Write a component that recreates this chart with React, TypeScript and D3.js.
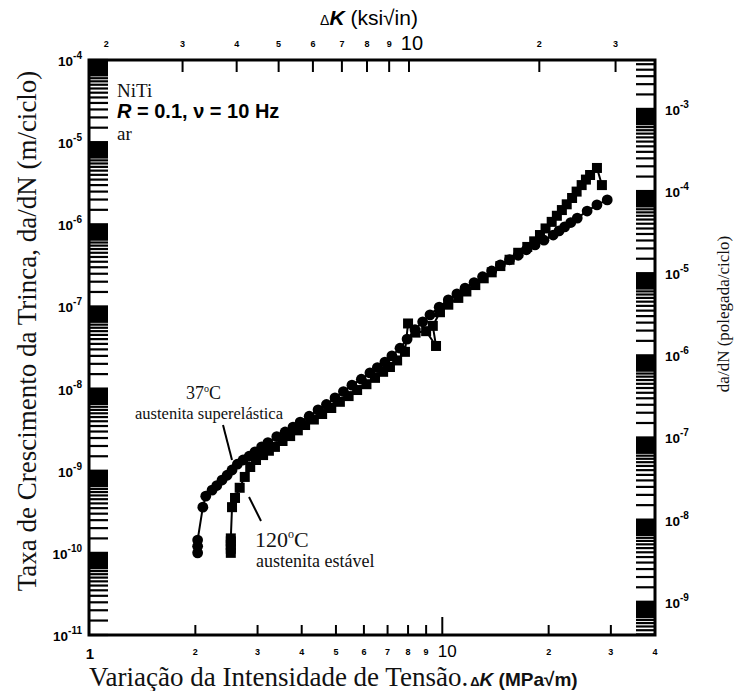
import React from "react";
import * as d3 from "d3";

// ---------- data ----------
// 37 °C austenita superelástica (circles): ΔK [MPa√m], da/dN [m/ciclo]
const k37 = [2.03, 2.03, 2.03, 2.1, 2.14, 2.23, 2.3, 2.38, 2.46, 2.54, 2.63, 2.73, 2.84, 2.95, 3.08, 3.21, 3.4, 3.59, 3.78, 3.96, 4.2, 4.45, 4.7, 4.97, 5.25, 5.55, 5.9, 6.24, 6.55, 6.88, 7.2, 7.59, 7.95, 8.37, 8.8, 9.23, 9.8, 10.4, 11.0, 11.6, 12.3, 13.0, 13.8, 14.6, 15.5, 16.4, 17.3, 18.3, 19.4, 20.6, 21.4, 22.2, 23.1, 24.1, 25.7, 27.4, 29.3];
const v37 = [1.0e-10, 1.2e-10, 1.43e-10, 3.6e-10, 4.9e-10, 5.8e-10, 6.6e-10, 7.7e-10, 8.8e-10, 1.02e-9, 1.2e-9, 1.35e-9, 1.5e-9, 1.7e-9, 1.95e-9, 2.2e-9, 2.6e-9, 2.96e-9, 3.4e-9, 3.9e-9, 4.6e-9, 5.5e-9, 6.4e-9, 7.7e-9, 9.2e-9, 1.1e-8, 1.3e-8, 1.55e-8, 1.8e-8, 2.1e-8, 2.5e-8, 3.1e-8, 4.0e-8, 5.2e-8, 6.5e-8, 7.9e-8, 9.8e-8, 1.2e-7, 1.42e-7, 1.67e-7, 1.95e-7, 2.3e-7, 2.7e-7, 3.2e-7, 3.7e-7, 4.2e-7, 4.9e-7, 5.6e-7, 6.4e-7, 7.4e-7, 8.3e-7, 9.3e-7, 1.05e-6, 1.19e-6, 1.45e-6, 1.72e-6, 1.98e-6];

// 120 °C austenita estável (squares)
const k120 = [2.52, 2.52, 2.52, 2.52, 2.52, 2.54, 2.59, 2.67, 2.76, 2.86, 2.97, 3.11, 3.23, 3.36, 3.53, 3.71, 3.9, 4.09, 4.33, 4.57, 4.85, 5.13, 5.43, 5.74, 6.1, 6.45, 6.8, 7.11, 7.45, 7.84, 8.0, 8.4, 9.0, 9.6, 9.4, 9.85, 10.4, 11.1, 11.7, 12.4, 13.1, 13.8, 14.6, 15.5, 16.4, 17.4, 18.2, 18.9, 19.6, 20.4, 21.1, 21.8, 22.5, 23.3, 24.0, 24.8, 25.5, 26.2, 27.4, 28.3];
const v120 = [1.0e-10, 1.12e-10, 1.25e-10, 1.38e-10, 1.5e-10, 3.6e-10, 4.66e-10, 6.2e-10, 8.4e-10, 1.11e-9, 1.35e-9, 1.55e-9, 1.75e-9, 1.95e-9, 2.3e-9, 2.64e-9, 3.1e-9, 3.6e-9, 4.2e-9, 4.9e-9, 5.8e-9, 6.9e-9, 8.1e-9, 9.6e-9, 1.13e-8, 1.35e-8, 1.6e-8, 1.83e-8, 2.2e-8, 2.8e-8, 6.2e-8, 4.8e-8, 5.0e-8, 3.3e-8, 5.8e-8, 8.5e-8, 1.05e-7, 1.27e-7, 1.52e-7, 1.82e-7, 2.2e-7, 2.6e-7, 3.1e-7, 3.7e-7, 4.5e-7, 5.3e-7, 6.2e-7, 7.4e-7, 8.9e-7, 1.07e-6, 1.27e-6, 1.49e-6, 1.75e-6, 2.09e-6, 2.5e-6, 3.0e-6, 3.5e-6, 3.98e-6, 4.85e-6, 3.0e-6];

// axes
const bottomTicks = [2, 3, 4, 5, 6, 7, 8, 9, 10, 20, 30];
const bottomLabels = ["2", "3", "4", "5", "6", "7", "8", "9", "10", "2", "3"];
const topTicks = [2, 3, 4, 5, 6, 7, 8, 9, 10, 20, 30];
const topLabels = ["2", "3", "4", "5", "6", "7", "8", "9", "10", "2", "3"];
const leftExponents = [-4, -5, -6, -7, -8, -9, -10, -11];
const rightExponents = [-3, -4, -5, -6, -7, -8, -9];
const minorMantissas = [1, 1.5, 2, 2.5, 3, 3.5, 4, 4.5, 5, 5.5, 6, 6.5, 6.75, 7, 7.25, 7.5, 7.75, 8, 8.25, 8.5, 8.75, 9, 9.25, 9.5, 9.75];
const IN_PER_M = 39.37;

const SERIF = "'Liberation Serif', 'Times New Roman', serif";
const SANS = "'Liberation Sans', Arial, sans-serif";

const W = 734, H = 691;
const L = 89, R = 655, T = 60, B = 635;

function logTickValues(lo: number, hi: number): number[] {
  const out: number[] = [];
  for (let e = Math.floor(Math.log10(lo)) - 1; e <= Math.ceil(Math.log10(hi)); e++) {
    for (const m of minorMantissas) {
      const v = m * Math.pow(10, e);
      if (v >= lo * 0.999 && v <= hi * 1.001) out.push(v);
    }
  }
  return out;
}

export default function App() {
  const x = d3.scaleLog().domain([1, 40]).range([L, R]);
  const xTop = d3.scaleLog().domain([1.824, 37.0]).range([L, R]);
  const y = d3.scaleLog().domain([1e-11, 1e-4]).range([B, T]);
  const yR = d3.scaleLog().domain([1e-11 * IN_PER_M, 1e-4 * IN_PER_M]).range([B, T]);

  const s37: [number, number][] = k37.map((k, i) => [k, v37[i]]);
  const s120: [number, number][] = k120.map((k, i) => [k, v120[i]]);
  const line = d3.line<[number, number]>().x(d => x(d[0])).y(d => y(d[1]));

  const leftTicks = logTickValues(1e-11, 1e-4);
  const rightTicks = logTickValues(1e-11 * IN_PER_M, 1e-4 * IN_PER_M);
  const TL = 19;

  return (
    <svg width={W} height={H} viewBox={`0 0 ${W} ${H}`} style={{ display: "block", background: "#fff", position: "absolute", left: 0, top: 0 }}>
      <rect x={0} y={0} width={W} height={H} fill="#fff" />

      {/* left ticks */}
      {leftTicks.map((v, i) => (
        <line key={"lt" + i} x1={L} x2={L + TL} y1={y(v)} y2={y(v)} stroke="#000" strokeWidth={2.2} />
      ))}
      {/* right ticks */}
      {rightTicks.map((v, i) => (
        <line key={"rt" + i} x1={R} x2={R - TL} y1={yR(v)} y2={yR(v)} stroke="#000" strokeWidth={2.2} />
      ))}
      {/* bottom ticks */}
      {bottomTicks.map((k, i) => (
        <line key={"bt" + i} x1={x(k)} x2={x(k)} y1={B} y2={B - (k === 10 ? 18 : 10)} stroke="#000" strokeWidth={2} />
      ))}
      {/* top ticks */}
      {topTicks.map((k, i) => (
        <line key={"tt" + i} x1={xTop(k)} x2={xTop(k)} y1={T} y2={T + 12} stroke="#000" strokeWidth={2} />
      ))}

      {/* frame */}
      <rect x={L} y={T} width={R - L} height={B - T} fill="none" stroke="#000" strokeWidth={3} />

      {/* left tick labels */}
      {leftExponents.map(e => (
        <text key={"ll" + e} x={82} y={y(Math.pow(10, e)) + 6} textAnchor="end" fontFamily={SANS} fontWeight="bold" fontSize={13.5} fill="#000">
          <tspan>10</tspan>
          <tspan dy={-7} fontSize={10}>{String(e)}</tspan>
        </text>
      ))}
      {/* right tick labels */}
      {rightExponents.map(e => (
        <text key={"rl" + e} x={665} y={yR(Math.pow(10, e)) + 6} textAnchor="start" fontFamily={SANS} fontWeight="bold" fontSize={13.5} fill="#000">
          <tspan>10</tspan>
          <tspan dy={-7} fontSize={10}>{String(e)}</tspan>
        </text>
      ))}

      {/* bottom labels */}
      <text x={x(1) + 1} y={659} textAnchor="middle" fontFamily={SANS} fontWeight="bold" fontSize={15}>1</text>
      {bottomTicks.map((k, i) =>
        k === 10 ? (
          <text key={"bl" + i} x={x(k) + 5} y={657} textAnchor="middle" fontFamily={SANS} fontSize={17}>{bottomLabels[i]}</text>
        ) : (
          <text key={"bl" + i} x={x(k)} y={655} textAnchor="middle" fontFamily={SANS} fontWeight="bold" fontSize={9}>{bottomLabels[i]}</text>
        )
      )}
      <text x={x(40)} y={655} textAnchor="middle" fontFamily={SANS} fontWeight="bold" fontSize={9}>4</text>

      {/* top labels */}
      {topTicks.map((k, i) =>
        k === 10 ? (
          <text key={"tl" + i} x={xTop(k) + 3} y={50} textAnchor="middle" fontFamily={SANS} fontSize={20}>{topLabels[i]}</text>
        ) : (
          <text key={"tl" + i} x={xTop(k)} y={47} textAnchor="middle" fontFamily={SANS} fontWeight="bold" fontSize={9}>{topLabels[i]}</text>
        )
      )}

      {/* top title */}
      <text x={369} y={25} textAnchor="middle" fontFamily={SANS} fontSize={21}>
        <tspan fontSize={14}>Δ</tspan>
        <tspan fontStyle="italic" fontWeight="bold">K</tspan>
        <tspan> (ksi√in)</tspan>
      </text>

      {/* bottom title */}
      <text x={L} y={686} fontFamily={SERIF} fontSize={27} fill="#111">
        <tspan>Variação da Intensidade de Tensão.</tspan>
        <tspan fontFamily={SANS} fontSize={13} fontWeight="bold" dx={2}>Δ</tspan>
        <tspan fontFamily={SANS} fontSize={19} fontWeight="bold" fontStyle="italic">K</tspan>
        <tspan fontFamily={SANS} fontSize={19} fontWeight="bold"> (MPa√m)</tspan>
      </text>

      {/* left title */}
      <text transform={`translate(36, 331) rotate(-90)`} textAnchor="middle" fontFamily={SERIF} fontSize={27} fill="#111">
        Taxa de Crescimento da Trinca, da/dN (m/ciclo)
      </text>

      {/* right title */}
      <text transform={`translate(729, 314) rotate(-90)`} textAnchor="middle" fontFamily={SERIF} fontSize={17} fill="#111">
        da/dN (polegada/ciclo)
      </text>

      {/* data lines */}
      <path d={line(s37) || ""} fill="none" stroke="#000" strokeWidth={2} />
      <path d={line(s120) || ""} fill="none" stroke="#000" strokeWidth={2} />
      {/* markers */}
      {s37.map((d, i) => (
        <circle key={"c" + i} cx={x(d[0])} cy={y(d[1])} r={5.4} fill="#000" />
      ))}
      {s120.map((d, i) => (
        <rect key={"s" + i} x={x(d[0]) - 5} y={y(d[1]) - 5} width={10} height={10} fill="#000" />
      ))}

      {/* annotations */}
      <text x={117} y={97} fontFamily={SERIF} fontSize={19} fill="#111">NiTi</text>
      <text x={117} y={118} fontFamily={SANS} fontSize={20} fontWeight="bold" fill="#000">
        <tspan fontStyle="italic">R</tspan>
        <tspan> = 0.1, ν = 10 Hz</tspan>
      </text>
      <text x={117} y={140} fontFamily={SERIF} fontSize={19} fill="#111">ar</text>

      <text x={221} y={399} textAnchor="end" fontFamily={SERIF} fontSize={18} fill="#111">
        <tspan>37</tspan>
        <tspan dy={-7} fontSize={10}>o</tspan>
        <tspan dy={7}>C</tspan>
      </text>
      <text x={135} y={419} fontFamily={SERIF} fontSize={16.5} fill="#111">austenita superelástica</text>
      <line x1={223} y1={425} x2={232} y2={460} stroke="#000" strokeWidth={2} />

      <text x={255} y={547} fontFamily={SERIF} fontSize={22} fill="#111">
        <tspan>120</tspan>
        <tspan dy={-9} fontSize={12}>o</tspan>
        <tspan dy={9}>C</tspan>
      </text>
      <text x={256} y={567} fontFamily={SERIF} fontSize={18} fill="#111">austenita estável</text>
      <line x1={249} y1={497} x2={261} y2={521} stroke="#000" strokeWidth={2} />
    </svg>
  );
}
